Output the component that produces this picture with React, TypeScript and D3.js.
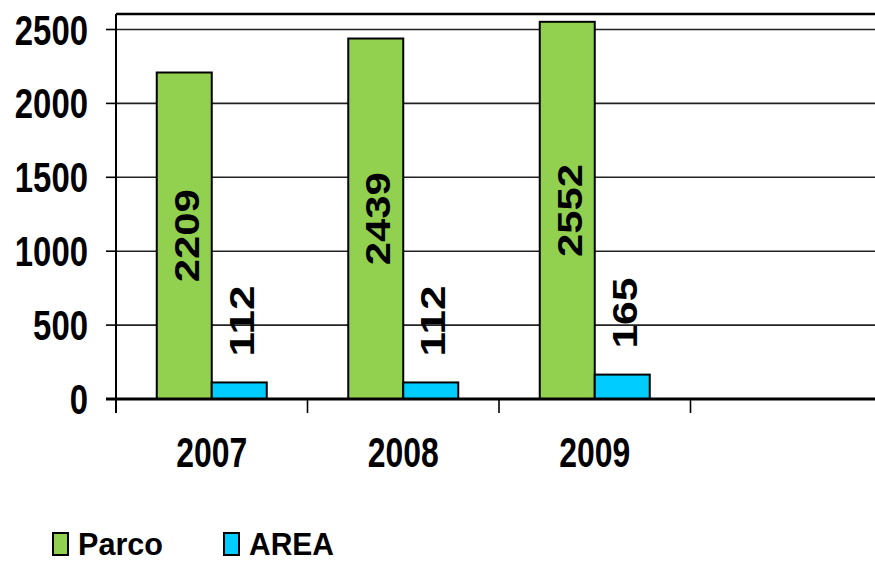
import React from 'react';
import * as d3 from 'd3';

const categories = ['2007', '2008', '2009', ''];
const parco = [2209, 2439, 2552];
const area = [112, 112, 165];
const yTicks = [0, 500, 1000, 1500, 2000, 2500];
const seriesNames = ['Parco', 'AREA'];
const seriesColors = ['#92D050', '#00CCFF'];

const W = 875;
const H = 561;
const left = 116;
const top = 14;
const bottom = 399;
const catWidth = 191.5;
const barW = 55;

const font = "'Liberation Sans Narrow', 'Liberation Sans', Arial, sans-serif";
const valueFont = "'Liberation Sans', Arial, sans-serif";

export default function App() {
	const x = d3
		.scaleBand<string>()
		.domain(categories)
		.range([left, left + catWidth * categories.length])
		.padding(0);
	const y = d3.scaleLinear().domain([0, 2500]).range([bottom, 29.5]);

	const center = (i: number) => (x(categories[i]) as number) + x.bandwidth() / 2;

	const series = [parco, area];

	return (
		<svg
			width={W}
			height={H}
			style={{ position: 'absolute', left: 0, top: 0, background: '#fff' }}
		>
			{/* gridlines */}
			{yTicks.slice(1).map((t) => (
				<line
					key={'g' + t}
					x1={left}
					x2={W}
					y1={y(t)}
					y2={y(t)}
					stroke="#222"
					strokeWidth={1.6}
				/>
			))}
			{/* left tick marks */}
			{yTicks.map((t) => (
				<line
					key={'t' + t}
					x1={left - 10}
					x2={left}
					y1={y(t)}
					y2={y(t)}
					stroke="#000"
					strokeWidth={1.6}
				/>
			))}
			{/* frame */}
			<line x1={left} x2={W} y1={top} y2={top} stroke="#000" strokeWidth={2.4} />
			<line x1={left} x2={left} y1={top} y2={bottom + 14} stroke="#000" strokeWidth={2} />

			{/* bars */}
			{series.map((vals, s) =>
				vals.map((v, i) => (
					<rect
						key={'b' + s + '-' + i}
						x={center(i) - barW + s * barW}
						y={y(v)}
						width={barW}
						height={y(0) - y(v)}
						fill={seriesColors[s]}
						stroke="#000"
						strokeWidth={2}
					/>
				))
			)}

			{/* x axis */}
			<line x1={left - 10} x2={W} y1={y(0)} y2={y(0)} stroke="#000" strokeWidth={3} />
			{categories.map((c, i) => (
				<line
					key={'xt' + i}
					x1={(x(c) as number) + (i === 0 ? 0 : 0)}
					x2={x(c) as number}
					y1={y(0)}
					y2={y(0) + 14}
					stroke="#000"
					strokeWidth={1.6}
				/>
			))}

			{/* y labels */}
			{yTicks.map((t) => (
				<text
					key={'yl' + t}
					x={88}
					y={y(t)}
					textAnchor="end"
					dominantBaseline="central"
					fontFamily={font}
					fontWeight="bold"
					fontSize={43}
					textLength={String(t).length * 18.3}
					lengthAdjust="spacingAndGlyphs"
				>
					{t}
				</text>
			))}

			{/* x labels */}
			{categories.map((c, i) =>
				c ? (
					<text
						key={'xl' + i}
						x={center(i)}
						y={452}
						textAnchor="middle"
						dominantBaseline="central"
						fontFamily={font}
						fontWeight="bold"
						fontSize={43}
						textLength={71}
						lengthAdjust="spacingAndGlyphs"
					>
						{c}
					</text>
				) : null
			)}

			{/* value labels */}
			{parco.map((v, i) => {
				const cx = center(i) - barW / 2 + 2;
				const cy = (y(v) + y(0)) / 2;
				return (
					<text
						key={'vp' + i}
						transform={`translate(${cx},${cy}) rotate(-90) scale(1,0.86)`}
						textAnchor="middle"
						dominantBaseline="central"
						fontFamily={valueFont}
						fontWeight="bold"
						fontSize={41}
						textLength={93}
						lengthAdjust="spacingAndGlyphs"
					>
						{v}
					</text>
				);
			})}
			{area.map((v, i) => {
				const cx = center(i) + barW / 2 + 2;
				const cy = y(v) - 26;
				return (
					<text
						key={'va' + i}
						transform={`translate(${cx},${cy}) rotate(-90) scale(1,0.86)`}
						textAnchor="start"
						dominantBaseline="central"
						fontFamily={valueFont}
						fontWeight="bold"
						fontSize={41}
						textLength={71}
						lengthAdjust="spacingAndGlyphs"
					>
						{v}
					</text>
				);
			})}

			{/* legend */}
			{seriesNames.map((n, s) => {
				const lx = s === 0 ? 52 : 223;
				return (
					<g key={'lg' + n} transform={`translate(${lx},532)`}>
						<rect
							x={1}
							y={1}
							width={15}
							height={22}
							fill={seriesColors[s]}
							stroke="#000"
							strokeWidth={2}
						/>
						<text
							x={26}
							y={23}
							fontFamily={font}
							fontWeight="bold"
							fontSize={32}
							textLength={85}
							lengthAdjust="spacingAndGlyphs"
						>
							{n}
						</text>
					</g>
				);
			})}
		</svg>
	);
}
